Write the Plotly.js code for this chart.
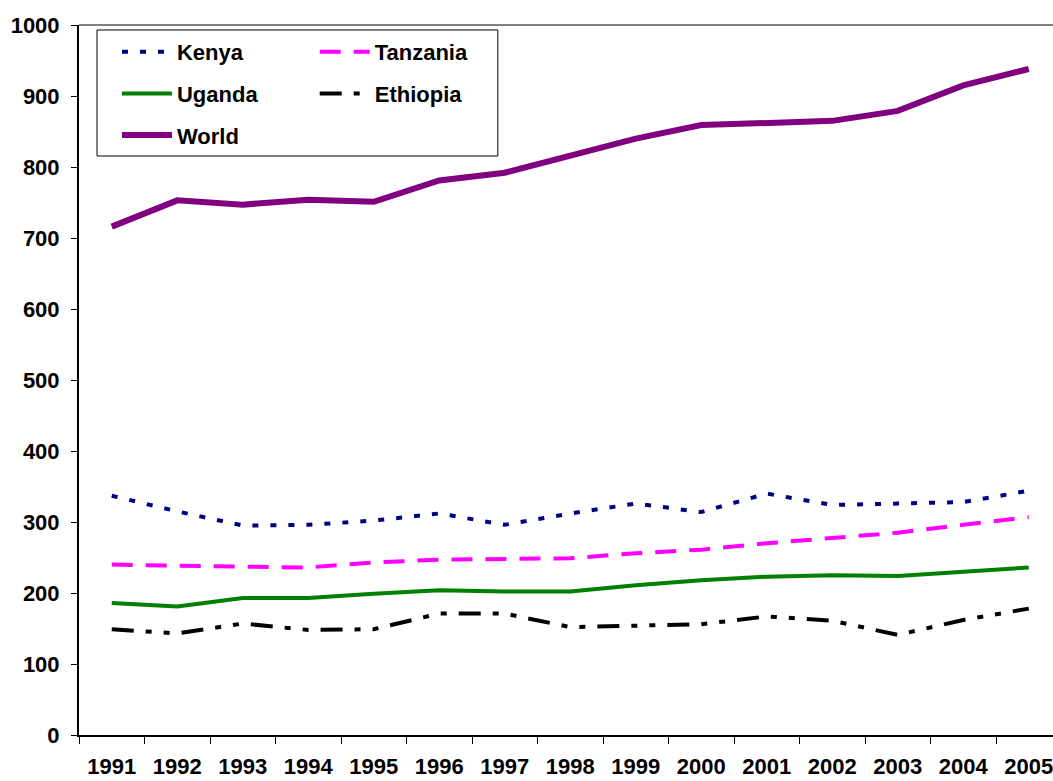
<!DOCTYPE html>
<html>
<head>
<meta charset="utf-8">
<script src="https://cdn.plot.ly/plotly-3.0.1.min.js"></script>
<style>html,body{margin:0;padding:0;background:#fff;}#chart{width:1053px;height:781px;}</style>
</head>
<body>
<div id="chart"></div>
<script>
var years = ['1991','1992','1993','1994','1995','1996','1997','1998','1999','2000','2001','2002','2003','2004','2005'];
var kenya    = [337, 315, 295, 296, 302, 312, 296, 312, 326, 314, 340, 324, 326, 328, 344];
var tanzania = [240, 238, 237, 236, 243, 247, 248, 249, 256, 261, 270, 278, 285, 296, 307];
var uganda   = [186, 181, 193, 193, 199, 204, 202, 202, 211, 218, 223, 225, 224, 230, 236];
var ethiopia = [149, 143, 157, 148, 149, 171, 171, 152, 154, 156, 167, 161, 141, 162, 178];
var world    = [716, 753, 747, 754, 751, 781, 792, 817, 840, 859, 862, 865, 879, 915, 938];

var FONT = 'Liberation Sans, Arial, sans-serif';

function tr(name, y, color, width, dash, legend, group) {
  return {
    type: 'scatter', mode: 'lines', name: name, x: years, y: y,
    line: {color: color, width: width, dash: dash},
    legend: legend, legendgroup: group, hoverinfo: 'skip'
  };
}

var data = [
  tr('Kenya', kenya, '#000080', 4, '6px,12px', 'legend', 'a'),
  tr('Uganda', uganda, '#008000', 4, 'solid', 'legend', 'b'),
  tr('World', world, '#800080', 6, 'solid', 'legend', 'c'),
  tr('Tanzania', tanzania, '#FF00FF', 4, '21px,13px', 'legend2', 'd'),
  tr('Ethiopia', ethiopia, '#000000', 4, '22px,12px,6px,12px,6px,12px', 'legend2', 'e')
];

var legendCommon = {
  orientation: 'v', bgcolor: 'rgba(0,0,0,0)', borderwidth: 0,
  font: {family: FONT, size: 22, color: '#000', weight: 'bold'},
  itemwidth: 50, tracegroupgap: 10, xanchor: 'left', yanchor: 'top'
};

var layout = {
  width: 1053, height: 781,
  margin: {l: 79, r: 0, t: 25, b: 46, pad: 0},
  paper_bgcolor: '#fff', plot_bgcolor: '#fff',
  showlegend: true,
  legend: Object.assign({}, legendCommon, {x: 0.039, y: 0.9915}),
  legend2: Object.assign({}, legendCommon, {x: 0.242, y: 0.9915}),
  xaxis: {
    type: 'category', range: [-0.5, 14.37],
    showline: true, linecolor: '#000', linewidth: 2,
    showgrid: false, zeroline: false,
    ticks: 'outside', tickson: 'boundaries', ticklen: 7, tickcolor: '#000', tickwidth: 1,
    ticklabelstandoff: 11,
    tickfont: {family: FONT, size: 22, color: '#000', weight: 'bold'}
  },
  yaxis: {
    range: [0, 1000], tickvals: [0,100,200,300,400,500,600,700,800,900,1000],
    showline: true, linecolor: '#000', linewidth: 2,
    showgrid: false, zeroline: false,
    ticks: 'outside', ticklen: 6, tickcolor: '#000', tickwidth: 1,
    ticklabelstandoff: 7,
    tickfont: {family: FONT, size: 22, color: '#000', weight: 'bold'}
  },
  shapes: [
    {type: 'line', xref: 'paper', yref: 'paper', x0: 0, x1: 1, y0: 1, y1: 1,
     line: {color: '#000', width: 1}},
    {type: 'rect', xref: 'paper', yref: 'paper', x0: 0.0185, x1: 0.430, y0: 0.8155, y1: 0.993,
     line: {color: '#000', width: 1}, fillcolor: 'rgba(0,0,0,0)', layer: 'above'}
  ]
};

Plotly.newPlot('chart', data, layout, {displayModeBar: false, staticPlot: true});
</script>
</body>
</html>
